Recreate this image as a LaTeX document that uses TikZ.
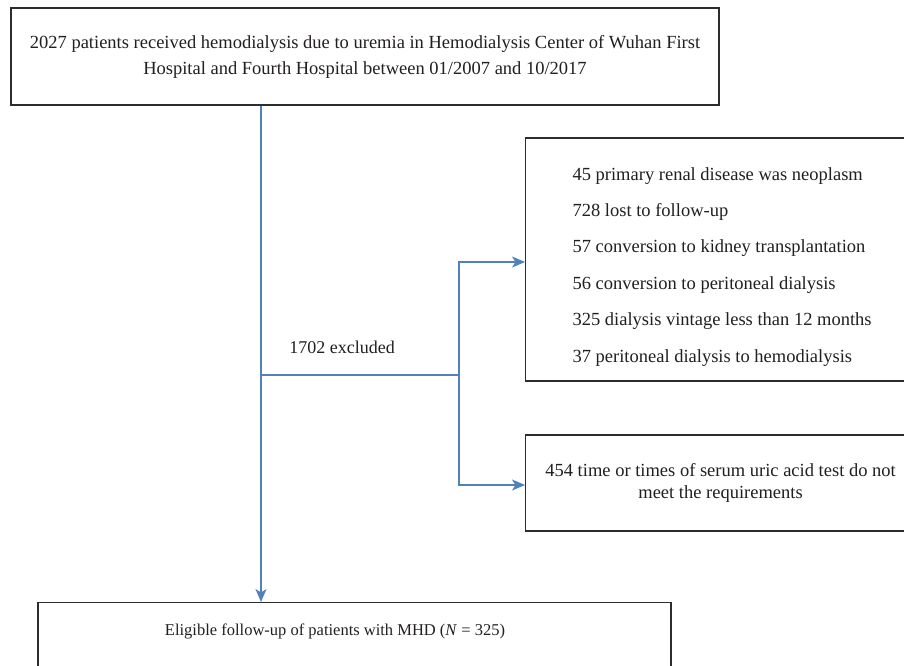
\documentclass[tikz,border=0pt]{standalone}
\usepackage{fontspec}
\setmainfont{Liberation Serif}
\usepackage{xcolor}
\usepackage{tikz}
\usetikzlibrary{arrows.meta,positioning,calc}
\definecolor{fcedge}{RGB}{45,45,45}
\definecolor{fcink}{RGB}{35,31,32}
\definecolor{fcflow}{RGB}{79,129,189}
\tikzset{
  fcbox/.style={
    draw=fcedge, line width=1.1pt, align=center, text=fcink,
    font=\fontsize{18.5}{26}\selectfont, inner sep=0pt
  },
  listbox/.style={
    fcbox, align=flush left, anchor=west,
    font=\fontsize{18.5}{36.4}\selectfont
  },
  flow/.style={draw=fcflow, line width=1.2pt},
  arr/.style={flow, -{Stealth[length=13pt,width=11pt,inset=3.5pt]}},
  anno/.style={text=fcink, font=\fontsize{18}{20}\selectfont, inner sep=0pt},
  every picture/.append style={line join=miter}
}
\begin{document}
\begin{tikzpicture}[x=1pt,y=-1pt]
  \clip (0,0) rectangle (904,665);
  \fill[white] (0,0) rectangle (904,665);
  \node[fcbox, minimum width=708pt, minimum height=97pt] (cohort) at (365,56.5)
    {2027 patients received hemodialysis due to uremia in Hemodialysis Center of Wuhan First\\
     Hospital and Fourth Hospital between 01/2007 and 10/2017};
  \node[listbox, text width=330pt, inner xsep=47pt, minimum height=243pt] (excl) at (525,259.5)
    {\rule{0pt}{27pt}45 primary renal disease was neoplasm\\
     728 lost to follow-up\\
     57 conversion to kidney transplantation\\
     56 conversion to peritoneal dialysis\\
     325 dialysis vintage less than 12 months\\
     37 peritoneal dialysis to hemodialysis};
  \node[fcbox, font=\fontsize{18.5}{22}\selectfont, minimum width=390pt, minimum height=96pt,
    anchor=west] (uric) at (525,483)
    {454 time or times of serum uric acid test do not\\
     meet the requirements};
  \node[fcbox, font=\fontsize{16.5}{20}\selectfont, minimum width=633pt, anchor=north,
    text height=12pt, text depth=80pt, inner ysep=21pt] (elig) at (354.5,602)
    {Eligible follow-up of patients with MHD (\textit{N} = 325)\hspace*{39pt}};
  \node[anno] (nexcl) at (342,347) {1702 excluded};
  \coordinate (split) at (261,375);
  \coordinate (fork) at (459,375);
  \draw[arr] (cohort.south -| split) -- (elig.north -| split);
  \draw[flow] (split) -- (fork);
  \draw[arr] (fork) |- ([yshift=-2.5pt]excl.west);
  \draw[arr] (fork) |- ([yshift=-2pt]uric.west);
\end{tikzpicture}
\end{document}
